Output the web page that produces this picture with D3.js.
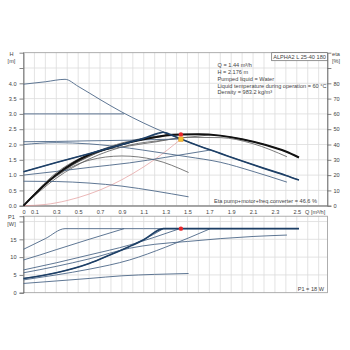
<!DOCTYPE html>
<html><head><meta charset="utf-8">
<script src="https://cdn.jsdelivr.net/npm/d3@7/dist/d3.min.js"></script>
<style>
body{margin:0;background:#fff}
svg{display:block}
text{font-family:"Liberation Sans",Arial,sans-serif;fill:#444}
</style>
</head><body>
<svg id="chart" width="350" height="350"></svg>
<script>
// ---- pump curves: flow Q [m3/h], head H [m], power P1 [W], efficiency eta [%]
// constant curve III (max)
const maxQ   = [0, 0.2, 0.38, 0.5, 0.7, 0.9, 1.1, 1.3, 1.44, 1.6, 1.8, 2.0, 2.2, 2.4, 2.52];
const maxH   = [3.97, 4.05, 4.13, 3.9, 3.47, 3.06, 2.7, 2.38, 2.18, 1.96, 1.71, 1.46, 1.22, 0.99, 0.84];
const maxP   = [12.2, 15.2, 18, 18, 18, 18, 18, 18, 18, 18, 18, 18, 18, 18, 18];
const maxEta = [0, 14.3, 23.4, 29, 36.2, 41, 44.2, 46, 46.6, 46.7, 45.8, 43.5, 40, 35.4, 31.5];

// constant pressure CP2
const cp3Q   = [0, 0.15, 0.3, 0.6, 0.92];
const cp3H   = [3.0, 3.0, 3.0, 3.0, 3.0];
const cp3P   = [9.2, 10.6, 12.1, 15.0, 18];
const cp3Eta = [0, 11.4, 19.9, 32.2, 41.1];

// constant pressure CP1
const cp2Q   = [0, 0.3, 0.6, 0.97, 1.2, 1.43];
const cp2H   = [2.09, 2.1, 2.12, 2.14, 2.16, 2.18];
const cp2P   = [6.4, 8.4, 10.6, 13.4, 15.6, 18];
const cp2Eta = [0, 20.1, 32.2, 41.5, 44.5, 46.4];

// constant curve II
const c2Q    = [0, 0.3, 0.6, 0.97, 1.2, 1.5, 1.8, 2.1, 2.41];
const c2H    = [2.0, 2.06, 2.02, 1.88, 1.76, 1.6, 1.42, 1.12, 0.77];
const c2P    = [5.6, 7.4, 9.5, 12.5, 13.6, 14.4, 15.2, 15.8, 16.2];
const c2Eta  = [0, 21.5, 33.5, 39.1, 41.6, 44.7, 44.5, 40.5, 32];

// proportional pressure PP2 (selected setting)
const pp2Q   = [0, 0.3, 0.6, 0.79, 0.97, 1.1, 1.28];
const pp2H   = [1.11, 1.41, 1.7, 1.89, 2.07, 2.2, 2.4];
const pp2P   = [4.0, 5.6, 8.2, 10.6, 13.0, 14.9, 18];
const pp2Eta = [0, 20.2, 33.3, 37.7, 41.4, 43.5, 45.7];

// proportional pressure PP1
const pp1Q   = [0, 0.3, 0.6, 0.97, 1.3, 1.71];
const pp1H   = [1.0, 1.12, 1.25, 1.4, 1.58, 1.82];
const pp1P   = [3.6, 5.0, 6.6, 9.2, 12.8, 18];
const pp1Eta = [0, 18, 30.5, 39.6, 43, 46.3];

// constant curve I
const c1Q    = [0, 0.3, 0.6, 0.9, 1.2, 1.51];
const c1H    = [0.8, 0.79, 0.74, 0.64, 0.48, 0.29];
const c1P    = [2.6, 3.3, 4.0, 4.75, 5.15, 5.4];
const c1Eta  = [0, 19.2, 29.7, 32.5, 30, 21.7];

// system curve through the duty point
const sysQ = [0, 0.2, 0.4, 0.6, 0.8, 1.0, 1.2, 1.44];
const sysH = [0, 0.04, 0.17, 0.38, 0.67, 1.05, 1.51, 2.176];

// duty point
const dutyQ = 1.44, dutyH = 2.176, dutyEta = 46.6, dutyP = 18;

// axis ticks
const qLabels   = [0, 0.1, 0.3, 0.5, 0.7, 0.9, 1.1, 1.3, 1.5, 1.7, 1.9, 2.1, 2.3, 2.5];
const hTicks    = [0, 0.5, 1.0, 1.5, 2.0, 2.5, 3.0, 3.5, 4.0, 4.5];
const etaTicks  = [0, 10, 20, 30, 40, 50, 60, 70, 80, 90];
const pTicks    = [0, 5, 10, 15, 20];

const infoLines = ["Q = 1.44 m\u00B3/h", "H = 2.176 m", "Pumped liquid = Water",
  "Liquid temperature during operation = 60 \u00B0C", "Density = 983.2 kg/m\u00B3"];

const svg = d3.select("#chart");
const L = 23.5, R = 327.4, T1 = 52.7, B1 = 205.7, T2 = 216.2, B2 = 292.7;

const x    = d3.scaleLinear().domain([0, 2.78]).range([L, R]);
const yH   = d3.scaleLinear().domain([0, 5]).range([B1, T1]);
const yEta = d3.scaleLinear().domain([0, 100]).range([B1, T1]);
const yP   = d3.scaleLinear().domain([0, 21.5]).range([B2, T2]);

const grid = svg.append("g").attr("stroke", "#dcdcdc").attr("stroke-width", 0.8);
d3.range(1, 28).map(i => i / 10).forEach(q => {
  grid.append("line").attr("x1", x(q)).attr("x2", x(q)).attr("y1", T1).attr("y2", B1);
  grid.append("line").attr("x1", x(q)).attr("x2", x(q)).attr("y1", T2).attr("y2", B2);
});
hTicks.slice(1).forEach(h => grid.append("line").attr("x1", L).attr("x2", R).attr("y1", yH(h)).attr("y2", yH(h)));
pTicks.slice(1).forEach(p => grid.append("line").attr("x1", L).attr("x2", R).attr("y1", yP(p)).attr("y2", yP(p)));

// frames
svg.append("rect").attr("x", L).attr("y", T1).attr("width", R - L).attr("height", B1 - T1)
  .attr("fill", "none").attr("stroke", "#9a9a9a").attr("stroke-width", 0.8);
svg.append("rect").attr("x", L).attr("y", T2).attr("width", R - L).attr("height", B2 - T2)
  .attr("fill", "none").attr("stroke", "#9a9a9a").attr("stroke-width", 0.8);

function styleAxis(g) {
  g.selectAll("path").attr("stroke", "#666").attr("stroke-width", 0.8);
  g.selectAll("line").attr("stroke", "#666").attr("stroke-width", 0.8);
  g.selectAll("text").attr("font-size", 5.6).attr("fill", "#444")
    .attr("font-family", "Liberation Sans, Arial, sans-serif");
}
const fmt1 = d3.format(".1f");
svg.append("g").attr("transform", `translate(${L},0)`)
  .call(d3.axisLeft(yH).tickValues(hTicks).tickSize(4).tickPadding(3)
    .tickFormat(d => d <= 4 ? fmt1(d) : "")).call(styleAxis);
svg.append("g").attr("transform", `translate(${R},0)`)
  .call(d3.axisRight(yEta).tickValues(etaTicks).tickSize(4).tickPadding(2)
    .tickFormat(d => d <= 80 ? d : "")).call(styleAxis);
svg.append("g").attr("transform", `translate(0,${B1})`)
  .call(d3.axisBottom(x).tickValues(qLabels).tickSize(0).tickPadding(4)
    .tickFormat(d => d === 0 ? "0" : fmt1(d))).call(styleAxis);
svg.append("g").attr("transform", `translate(${L},0)`)
  .call(d3.axisLeft(yP).tickValues(pTicks).tickSize(4).tickPadding(3)
    .tickFormat(d => d < 20 ? d : "")).call(styleAxis);

// axis titles
const small = (t, px, py, anchor) => svg.append("text").attr("x", px).attr("y", py)
  .attr("font-size", 5.6).attr("text-anchor", anchor || "start").text(t);
small("H", 11.5, 56, "middle");
small("[m]", 11.5, 62.5, "middle");
small("eta", 336, 56, "middle");
small("[%]", 336, 62.5, "middle");
small("P1", 11.5, 219, "middle");
small("[W]", 11.5, 225.5, "middle");
small("Q [m\u00B3/h]", 305, B1 + 8.6);

// title box
svg.append("rect").attr("x", 271.7).attr("y", T1).attr("width", R - 271.7).attr("height", 8)
  .attr("fill", "#fff").attr("stroke", "#666").attr("stroke-width", 0.7);
small("ALPHA2 L 25-40 180", (271.7 + R) / 2, T1 + 6, "middle");

infoLines.forEach((t, i) => small(t, 217.5, 67.2 + i * 6.8));

const line = (ys) => d3.line().x(d => x(d[0])).y(d => ys(d[1])).curve(d3.curveMonotoneX);
const zip = (a, b) => a.map((v, i) => [v, b[i]]);

const curves = [
  { q: maxQ, h: maxH, p: maxP, e: maxEta },
  { q: cp3Q, h: cp3H, p: cp3P, e: cp3Eta },
  { q: cp2Q, h: cp2H, p: cp2P, e: cp2Eta },
  { q: c2Q,  h: c2H,  p: c2P,  e: c2Eta },
  { q: pp2Q, h: pp2H, p: pp2P, e: pp2Eta },
  { q: pp1Q, h: pp1H, p: pp1P, e: pp1Eta },
  { q: c1Q,  h: c1H,  p: c1P,  e: c1Eta }
];

// selected setting: PP2 up to the max curve, then along the max curve
const tail = maxQ.map((q, i) => i).filter(i => maxQ[i] > pp2Q[pp2Q.length - 1]);
const sel = {
  q: pp2Q.concat(tail.map(i => maxQ[i])),
  h: pp2H.concat(tail.map(i => maxH[i])),
  p: pp2P.concat(tail.map(i => maxP[i])),
  e: pp2Eta.concat(tail.map(i => maxEta[i]))
};

// system curve
svg.append("path").attr("d", line(yH)(zip(sysQ, sysH)))
  .attr("fill", "none").attr("stroke", "#e39a9a").attr("stroke-width", 0.7);

const thin = "#4d6888", thick = "#1d3f66";
curves.forEach(c => {
  svg.append("path").attr("d", line(yEta)(zip(c.q, c.e)))
    .attr("fill", "none").attr("stroke", "#5a5a5a").attr("stroke-width", 0.8);
});
curves.forEach(c => {
  svg.append("path").attr("d", line(yH)(zip(c.q, c.h)))
    .attr("fill", "none").attr("stroke", thin).attr("stroke-width", 0.9);
  svg.append("path").attr("d", line(yP)(zip(c.q, c.p)))
    .attr("fill", "none").attr("stroke", thin).attr("stroke-width", 0.9);
});
svg.append("path").attr("d", line(yEta)(zip(sel.q, sel.e)))
  .attr("fill", "none").attr("stroke", "#111").attr("stroke-width", 2);
svg.append("path").attr("d", line(yH)(zip(sel.q, sel.h)))
  .attr("fill", "none").attr("stroke", thick).attr("stroke-width", 1.6);
svg.append("path").attr("d", line(yP)(zip(sel.q, sel.p)))
  .attr("fill", "none").attr("stroke", thick).attr("stroke-width", 1.6);

// duty point markers
svg.append("rect").attr("x", x(dutyQ) - 2.2).attr("y", yH(dutyH) - 2.2).attr("width", 4.4).attr("height", 4.4)
  .attr("fill", "#f4c430").attr("stroke", "#e0902a").attr("stroke-width", 0.6);
svg.append("circle").attr("cx", x(dutyQ)).attr("cy", yEta(dutyEta)).attr("r", 2.2).attr("fill", "#e8262a");
svg.append("circle").attr("cx", x(dutyQ)).attr("cy", yP(dutyP)).attr("r", 2.2).attr("fill", "#e8262a");

small("Eta pump+motor+freq.converter = 46.6 %", 317, 203, "end");
small("P1 = 18 W", 324, 290.5, "end");
</script>
</body></html>
